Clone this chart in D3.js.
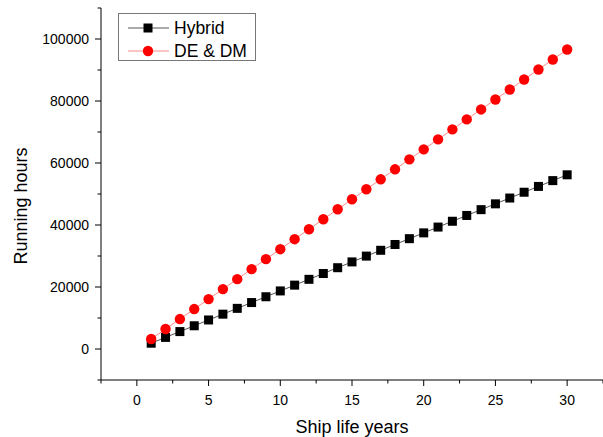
<!DOCTYPE html>
<html>
<head>
<meta charset="utf-8">
<script src="https://cdn.jsdelivr.net/npm/d3@7"></script>
<style>
  html, body { margin: 0; padding: 0; background: #fff; }
  svg { display: block; font-family: "Liberation Sans", Arial, sans-serif; }
</style>
</head>
<body>
<svg id="chart" width="603" height="437"></svg>
<script>
// Ship life (years) and cumulative running hours for each propulsion option
const years = [1,2,3,4,5,6,7,8,9,10,11,12,13,14,15,16,17,18,19,20,21,22,23,24,25,26,27,28,29,30];
const hybridHours = [1873,3746,5619,7492,9365,11238,13111,14984,16857,18730,20603,22476,24349,26222,28095,
                     29968,31841,33714,35587,37460,39333,41206,43079,44952,46825,48698,50571,52444,54317,56190];
const dedmHours = [3220,6440,9660,12880,16100,19320,22540,25760,28980,32200,35420,38640,41860,45080,48300,
                   51520,54740,57960,61180,64400,67620,70840,74060,77280,80500,83720,86940,90160,93380,96600];
const seriesNames = ["Hybrid", "DE & DM"];
const xTicks = [0,5,10,15,20,25,30];
const yTicks = [0,20000,40000,60000,80000,100000];

const svg = d3.select("#chart");

const x = d3.scaleLinear().domain([-2.5, 32.5]).range([101, 603]);
const y = d3.scaleLinear().domain([-10000, 110000]).range([380, 8]);

// Axes with major and minor ticks
const xMinor = d3.range(-2.5, 32.6, 2.5).filter(v => !xTicks.includes(v));
const yMinor = d3.range(-10000, 110001, 10000).filter(v => !yTicks.includes(v));

const gx = svg.append("g").attr("transform", "translate(0,380)");
gx.append("line").attr("x1", x(-2.5)).attr("x2", x(32.5)).attr("stroke", "#000").attr("stroke-width", 1);
gx.selectAll(".maj").data(xTicks).join("line")
  .attr("x1", d => x(d)).attr("x2", d => x(d)).attr("y1", 0).attr("y2", 6)
  .attr("stroke", "#000");
gx.selectAll(".min").data(xMinor).join("line")
  .attr("x1", d => x(d)).attr("x2", d => x(d)).attr("y1", 0).attr("y2", 3.5)
  .attr("stroke", "#000");
gx.selectAll("text").data(xTicks).join("text")
  .attr("x", d => x(d)).attr("y", 25)
  .attr("text-anchor", "middle").attr("font-size", 14).attr("fill", "#000")
  .text(d => d);

const gy = svg.append("g").attr("transform", "translate(101,0)");
gy.append("line").attr("y1", y(-10000)).attr("y2", y(110000)).attr("stroke", "#000").attr("stroke-width", 1);
gy.selectAll(".maj").data(yTicks).join("line")
  .attr("y1", d => y(d)).attr("y2", d => y(d)).attr("x1", 0).attr("x2", -6)
  .attr("stroke", "#000");
gy.selectAll(".min").data(yMinor).join("line")
  .attr("y1", d => y(d)).attr("y2", d => y(d)).attr("x1", 0).attr("x2", -3.5)
  .attr("stroke", "#000");
gy.selectAll("text").data(yTicks).join("text")
  .attr("x", -12).attr("y", d => y(d)).attr("dy", "0.35em")
  .attr("text-anchor", "end").attr("font-size", 14).attr("fill", "#000")
  .text(d => d);

// Axis titles
svg.append("text")
  .attr("x", 352).attr("y", 433)
  .attr("text-anchor", "middle").attr("font-size", 18).attr("fill", "#000")
  .text("Ship life years");
svg.append("text")
  .attr("transform", "translate(27,206) rotate(-90)")
  .attr("text-anchor", "middle").attr("font-size", 18).attr("fill", "#000")
  .text("Running hours");

// Series
const line = d3.line().x(d => x(d[0])).y(d => y(d[1]));
const hybridPts = years.map((yr, i) => [yr, hybridHours[i]]);
const dedmPts = years.map((yr, i) => [yr, dedmHours[i]]);

svg.append("path").datum(hybridPts).attr("d", line)
  .attr("fill", "none").attr("stroke", "#555").attr("stroke-width", 1);
svg.append("path").datum(dedmPts).attr("d", line)
  .attr("fill", "none").attr("stroke", "#ff8a8a").attr("stroke-width", 1);

const sq = 9;
svg.selectAll(".hyb").data(hybridPts).join("rect")
  .attr("x", d => x(d[0]) - sq / 2).attr("y", d => y(d[1]) - sq / 2)
  .attr("width", sq).attr("height", sq).attr("fill", "#000");
svg.selectAll(".dedm").data(dedmPts).join("circle")
  .attr("cx", d => x(d[0])).attr("cy", d => y(d[1])).attr("r", 5.2)
  .attr("fill", "#ff0000");

// Legend
const lg = svg.append("g");
lg.append("rect").attr("x", 118.5).attr("y", 13.5).attr("width", 137).attr("height", 47)
  .attr("fill", "#fff").attr("stroke", "#777").attr("stroke-width", 1);
const rows = [
  { name: seriesNames[0], yc: 28, stroke: "#555", mark: "square" },
  { name: seriesNames[1], yc: 51, stroke: "#ff8a8a", mark: "circle" }
];
rows.forEach(r => {
  lg.append("line").attr("x1", 128).attr("x2", 169).attr("y1", r.yc).attr("y2", r.yc)
    .attr("stroke", r.stroke).attr("stroke-width", 1);
  if (r.mark === "square") {
    lg.append("rect").attr("x", 148 - sq / 2).attr("y", r.yc - sq / 2)
      .attr("width", sq).attr("height", sq).attr("fill", "#000");
  } else {
    lg.append("circle").attr("cx", 148).attr("cy", r.yc).attr("r", 5.2).attr("fill", "#ff0000");
  }
  lg.append("text").attr("x", 174).attr("y", r.yc).attr("dy", "0.36em")
    .attr("font-size", 17.5).attr("fill", "#000").text(r.name);
});
</script>
</body>
</html>
